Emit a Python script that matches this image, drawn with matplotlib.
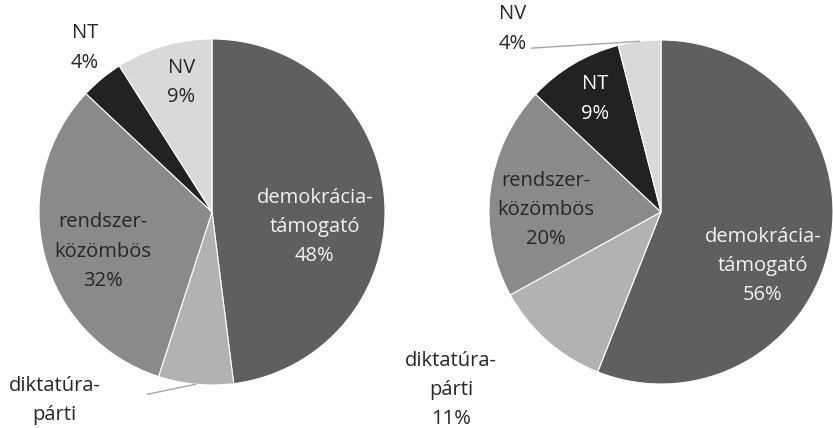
import numpy as np
import matplotlib.pyplot as plt

plt.rcParams['font.family'] = ['Open Sans', 'DejaVu Sans']

# data
categories = ['demokrácia-\ntámogató', 'diktatúra-\npárti', 'rendszer-\nközömbös', 'NT', 'NV']
left_values = [48, 7, 32, 4, 9]
right_values = [56, 11, 20, 9, 4]
# left "diktatúra-párti" percentage falls outside the picture in the original
left_show_pct = [True, False, True, True, True]
right_show_pct = [True, True, True, True, True]

colors = ['#5f5f5f', '#b2b2b2', '#8a8a8a', '#222222', '#d9d9d9']
left_text_colors = ['#f2f2f2', '#262626', '#262626', '#262626', '#262626']
right_text_colors = ['#f2f2f2', '#262626', '#262626', '#ffffff', '#262626']

# label placement: (radius fraction, angle shift from wedge middle)
left_lab = [(0.60, -11.9), (1.42, -34.4), (0.67, 5.6), (1.20, -1.8), (0.77, -2.8)]
right_lab = [(0.67, -17.1), (1.60, -8.3), (0.67, 6.2), (0.76, -0.3), (1.37, 31.9)]

W, H = 833, 428
fig = plt.figure(figsize=(W / 100, H / 100), dpi=100)
ax = fig.add_axes([0, 0, 1, 1])


def draw_pie(values, show_pct, center, radius, lab, tcolors, leader=None):
    wedges, _ = ax.pie(values, colors=colors, startangle=90, counterclock=False,
                       center=center, radius=radius, frame=True,
                       wedgeprops=dict(edgecolor='white', linewidth=0.8))
    for i, w in enumerate(wedges):
        mid = (w.theta1 + w.theta2) / 2
        rf, da = lab[i]
        a = np.deg2rad(mid + da)
        x = center[0] + rf * radius * np.cos(a)
        y = center[1] + rf * radius * np.sin(a)
        txt = categories[i] + (f'\n{values[i]}%' if show_pct[i] else '')
        ax.text(x, y, txt, ha='center', va='center',
                fontsize=14.5, color=tcolors[i], linespacing=1.62)
        if leader is not None and leader[0] == i:
            m = np.deg2rad(mid)
            ex = center[0] + radius * np.cos(m)
            ey = center[1] + radius * np.sin(m)
            ax.plot([x + leader[1], ex], [y + leader[2], ey], color='#a6a6a6', lw=1)


draw_pie(left_values, left_show_pct, (212, 216), 173, left_lab, left_text_colors,
         leader=(1, 93, 6.5))
draw_pie(right_values, right_show_pct, (661, 216), 172, right_lab, right_text_colors,
         leader=(4, 19, -19))

ax.set_xlim(0, W)
ax.set_ylim(0, H)
ax.set_aspect('equal')
ax.axis('off')

fig.savefig('out.png', dpi=100)
